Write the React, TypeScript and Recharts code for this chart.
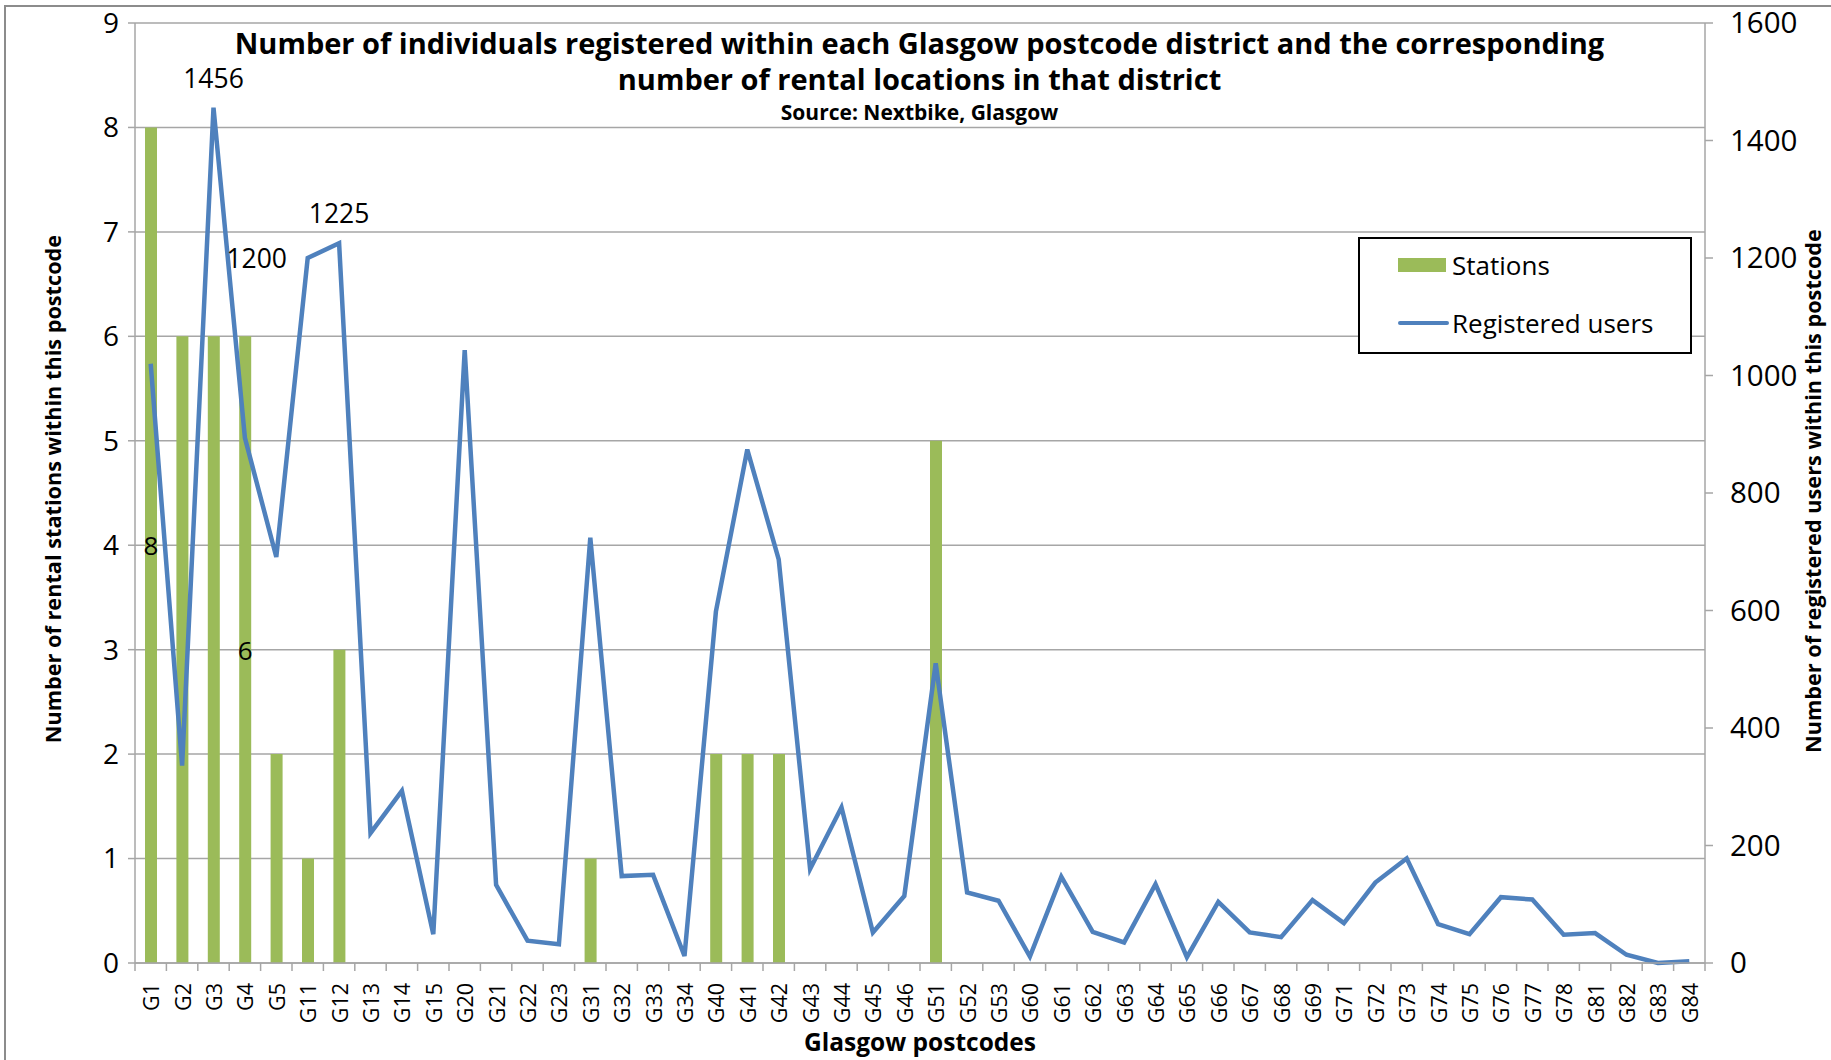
import React from 'react';
import { ComposedChart, Bar, Line, XAxis, YAxis, CartesianGrid, Legend, LabelList } from 'recharts';

const postcodes = [
  'G1', 'G2', 'G3', 'G4', 'G5', 'G11', 'G12', 'G13', 'G14', 'G15',
  'G20', 'G21', 'G22', 'G23', 'G31', 'G32', 'G33', 'G34', 'G40', 'G41',
  'G42', 'G43', 'G44', 'G45', 'G46', 'G51', 'G52', 'G53', 'G60', 'G61',
  'G62', 'G63', 'G64', 'G65', 'G66', 'G67', 'G68', 'G69', 'G71', 'G72',
  'G73', 'G74', 'G75', 'G76', 'G77', 'G78', 'G81', 'G82', 'G83', 'G84',
];

const stations = [
  8, 6, 6, 6, 2, 1, 3, 0, 0, 0,
  0, 0, 0, 0, 1, 0, 0, 0, 2, 2,
  2, 0, 0, 0, 0, 5, 0, 0, 0, 0,
  0, 0, 0, 0, 0, 0, 0, 0, 0, 0,
  0, 0, 0, 0, 0, 0, 0, 0, 0, 0,
];

const registeredUsers = [
  1020, 336, 1456, 894, 691, 1200, 1225, 221, 293, 49,
  1043, 133, 38, 32, 724, 148, 150, 12, 598, 874,
  687, 160, 265, 52, 114, 510, 120, 106, 11, 147,
  53, 35, 134, 10, 104, 52, 44, 107, 68, 137,
  178, 66, 49, 112, 108, 48, 51, 14, 0, 3,
];

const stationTicks = [0, 1, 2, 3, 4, 5, 6, 7, 8, 9];
const userTicks = [0, 200, 400, 600, 800, 1000, 1200, 1400, 1600];

const labeledStations = ['G1', 'G4', 'G51'];
const labeledUsers = ['G3', 'G11', 'G12'];
const usersLabelLeft = ['G11'];

const seriesNames = ['Stations', 'Registered users'];

const titleLine1 = 'Number of individuals registered within each Glasgow postcode district and the corresponding';
const titleLine2 = 'number of rental locations in that district';
const sourceText = 'Source: Nextbike, Glasgow';
const leftAxisTitle = 'Number of rental stations within this postcode';
const rightAxisTitle = 'Number of registered users within this postcode';
const xAxisTitle = 'Glasgow postcodes';

const data = postcodes.map((p, i) => ({
  postcode: p,
  stations: stations[i],
  users: registeredUsers[i],
}));

const W = 1831;
const H = 1060;
const PLOT_LEFT = 135;
const PLOT_RIGHT = 1705;
const PLOT_TOP = 23;
const PLOT_BOTTOM = 963;
const BAND = (PLOT_RIGHT - PLOT_LEFT) / postcodes.length;

const FONT = '"Open Sans", Lato, sans-serif';
const GREEN = '#9BBB59';
const BLUE = '#4F81BD';
const GRAY = '#A6A6A6';

const XTick = (props: any) => {
  const { x, y, payload, index } = props;
  const half = BAND / 2;
  const ty = y + 20;
  return (
    <g>
      <line x1={x - half} y1={y} x2={x - half} y2={y + 8} stroke={GRAY} strokeWidth={1.5} />
      {index === postcodes.length - 1 && (
        <line x1={x + half} y1={y} x2={x + half} y2={y + 8} stroke={GRAY} strokeWidth={1.5} />
      )}
      <text
        x={x}
        y={ty}
        transform={`rotate(-90 ${x} ${ty})`}
        textAnchor="end"
        dominantBaseline="central"
        fontFamily={FONT}
        fontSize={21.5}
        fill="#000"
      >
        {payload.value}
      </text>
    </g>
  );
};

const BarValueLabel = (props: any) => {
  const { x, y, width, height, value, index } = props;
  if (!labeledStations.includes(postcodes[index])) return null;
  return (
    <text
      x={x + width / 2}
      y={y + height / 2}
      textAnchor="middle"
      dominantBaseline="central"
      fontFamily={FONT}
      fontSize={26}
      fill="#000"
    >
      {value}
    </text>
  );
};

const LineValueLabel = (props: any) => {
  const { x, y, value, index } = props;
  const pc = postcodes[index];
  if (!labeledUsers.includes(pc)) return null;
  const left = usersLabelLeft.includes(pc);
  return (
    <text
      x={left ? x - 51 : x}
      y={left ? y : y - 30}
      textAnchor="middle"
      dominantBaseline="central"
      fontFamily={FONT}
      fontSize={26.5}
      fill="#000"
    >
      {value}
    </text>
  );
};

const LegendBox = (props: any) => {
  const payload: any[] = props.payload || [];
  const items = seriesNames.map((n) => payload.find((p) => p.value === n)).filter(Boolean);
  const rows = [28.5, 86.5];
  return (
    <div
      style={{
        width: 334,
        height: 117,
        border: '2.5px solid #000',
        boxSizing: 'border-box',
        position: 'relative',
        background: '#fff',
        fontFamily: FONT,
      }}
    >
      {items.map((it: any, i: number) => {
        const cy = rows[i] - 2.5;
        const isLine = it.type === 'line';
        return (
          <React.Fragment key={it.value}>
            {isLine ? (
              <div
                style={{
                  position: 'absolute',
                  left: 38,
                  top: cy - 2,
                  width: 51,
                  height: 4,
                  background: it.color,
                  borderRadius: 2,
                }}
              />
            ) : (
              <div
                style={{
                  position: 'absolute',
                  left: 38,
                  top: cy - 7,
                  width: 48,
                  height: 14,
                  background: it.color,
                }}
              />
            )}
            <div
              style={{
                position: 'absolute',
                left: 92,
                top: cy - 16,
                height: 32,
                lineHeight: '32px',
                fontSize: 26,
                color: '#000',
                whiteSpace: 'nowrap',
              }}
            >
              {it.value}
            </div>
          </React.Fragment>
        );
      })}
    </div>
  );
};

const titleStyle = {
  position: 'absolute' as const,
  left: 0,
  width: 1839,
  textAlign: 'center' as const,
  fontFamily: FONT,
  fontWeight: 'bold' as const,
  color: '#000',
  whiteSpace: 'nowrap' as const,
  pointerEvents: 'none' as const,
};

export default function App() {
  return (
    <div
      style={{
        position: 'absolute',
        left: 0,
        top: 0,
        width: W,
        height: H,
        overflow: 'hidden',
        background: '#fff',
      }}
    >
      <div
        style={{
          position: 'absolute',
          left: 4,
          top: 5,
          width: W + 20,
          height: H + 20,
          border: '2px solid #8c8c8c',
        }}
      />
      <ComposedChart
        width={W}
        height={H}
        data={data}
        margin={{ top: PLOT_TOP, right: 0, bottom: 0, left: 0 }}
        style={{ position: 'absolute', left: 0, top: 0 }}
      >
        <CartesianGrid yAxisId="left" vertical={false} stroke={GRAY} strokeWidth={1.5} />
        <XAxis
          dataKey="postcode"
          interval={0}
          height={H - PLOT_BOTTOM}
          tickSize={0}
          tickMargin={0}
          tickLine={false}
          axisLine={{ stroke: GRAY, strokeWidth: 1.5 }}
          tick={<XTick />}
          label={{
            content: (p: any) => {
              const vb = p.viewBox;
              return (
                <text
                  x={vb.x + vb.width / 2}
                  y={vb.y + 78}
                  textAnchor="middle"
                  dominantBaseline="central"
                  fontFamily={FONT}
                  fontWeight="bold"
                  fontSize={24.5}
                  fill="#000"
                >
                  {xAxisTitle}
                </text>
              );
            },
          }}
        />
        <YAxis
          yAxisId="left"
          orientation="left"
          width={PLOT_LEFT}
          domain={[0, 9]}
          ticks={stationTicks}
          interval={0}
          tickSize={7}
          tickMargin={9}
          axisLine={{ stroke: GRAY, strokeWidth: 1.5 }}
          tickLine={{ stroke: GRAY, strokeWidth: 1.5 }}
          tick={{ fontFamily: FONT, fontSize: 28, fill: '#000' }}
          label={{
            content: (p: any) => {
              const vb = p.viewBox;
              const cx = vb.x + 52;
              const cy = vb.y + vb.height / 2 - 4;
              return (
                <text
                  x={cx}
                  y={cy}
                  transform={`rotate(-90 ${cx} ${cy})`}
                  textAnchor="middle"
                  dominantBaseline="central"
                  fontFamily={FONT}
                  fontWeight="bold"
                  fontSize={21.7}
                  fill="#000"
                >
                  {leftAxisTitle}
                </text>
              );
            },
          }}
        />
        <YAxis
          yAxisId="right"
          orientation="right"
          width={W - PLOT_RIGHT}
          domain={[0, 1600]}
          ticks={userTicks}
          interval={0}
          tickSize={8}
          tickMargin={17}
          axisLine={{ stroke: GRAY, strokeWidth: 1.5 }}
          tickLine={{ stroke: GRAY, strokeWidth: 1.5 }}
          tick={{ fontFamily: FONT, fontSize: 29.5, fill: '#000' }}
          label={{
            content: (p: any) => {
              const vb = p.viewBox;
              const cx = vb.x + 107;
              const cy = vb.y + vb.height / 2 - 2;
              return (
                <text
                  x={cx}
                  y={cy}
                  transform={`rotate(-90 ${cx} ${cy})`}
                  textAnchor="middle"
                  dominantBaseline="central"
                  fontFamily={FONT}
                  fontWeight="bold"
                  fontSize={21.7}
                  fill="#000"
                >
                  {rightAxisTitle}
                </text>
              );
            },
          }}
        />
        <Legend
          layout="vertical"
          align="center"
          verticalAlign="middle"
          content={<LegendBox />}
          wrapperStyle={{ left: 1358, top: 237, width: 334, height: 117 }}
        />
        <Bar
          yAxisId="left"
          dataKey="stations"
          name={seriesNames[0]}
          fill={GREEN}
          barSize={12}
          isAnimationActive={false}
        >
          <LabelList dataKey="stations" content={<BarValueLabel />} />
        </Bar>
        <Line
          yAxisId="right"
          dataKey="users"
          name={seriesNames[1]}
          type="linear"
          stroke={BLUE}
          strokeWidth={4.5}
          dot={false}
          activeDot={false}
          isAnimationActive={false}
        >
          <LabelList dataKey="users" content={<LineValueLabel />} />
        </Line>
      </ComposedChart>
      <div style={{ ...titleStyle, top: 43 - 20, height: 40, lineHeight: '40px', fontSize: 29 }}>{titleLine1}</div>
      <div style={{ ...titleStyle, top: 79 - 20, height: 40, lineHeight: '40px', fontSize: 29 }}>{titleLine2}</div>
      <div style={{ ...titleStyle, top: 112 - 14, height: 28, lineHeight: '28px', fontSize: 21 }}>{sourceText}</div>
    </div>
  );
}
